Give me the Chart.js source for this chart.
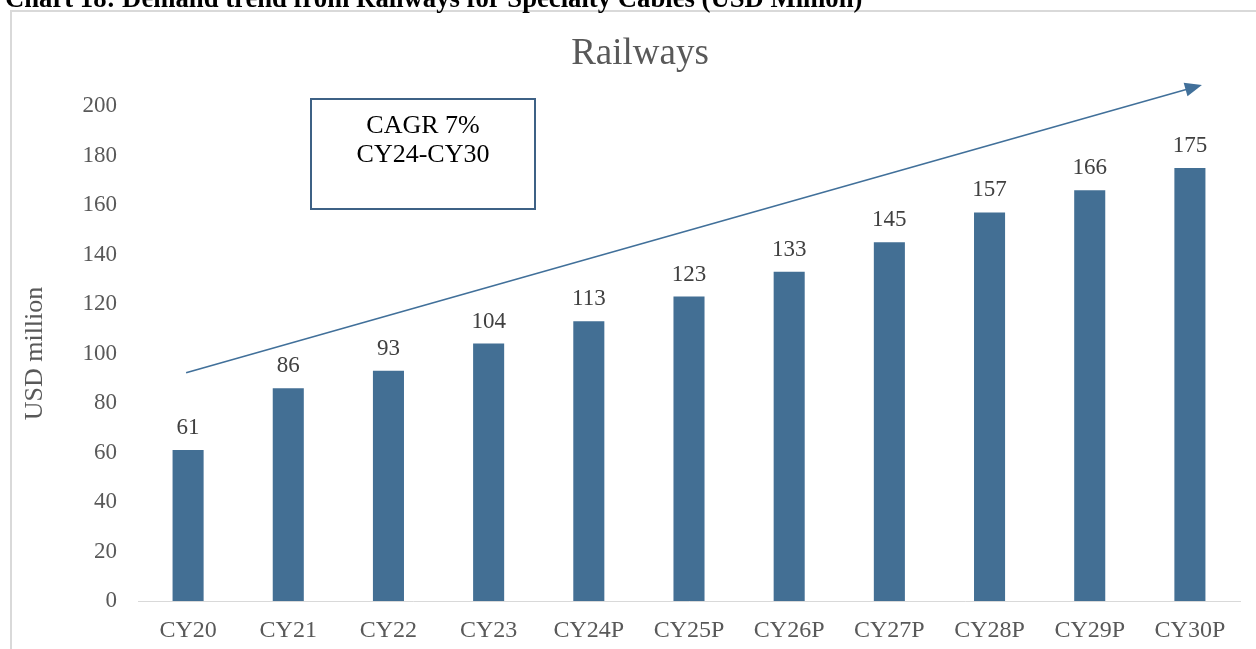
<!DOCTYPE html>
<html>
<head>
<meta charset="utf-8">
<script src="https://cdn.jsdelivr.net/npm/chart.js@4.4.1/dist/chart.umd.min.js"></script>
<style>
  html, body { margin: 0; padding: 0; background: #fff; width: 1256px; height: 649px; overflow: hidden; }
  #frame { position: absolute; left: 10px; top: 10px; width: 1260px; height: 660px; border: 2px solid #d9d9d9; box-sizing: border-box; }
  canvas { position: absolute; left: 0; top: 0; }
</style>
</head>
<body>
<div id="frame"></div>
<canvas id="c" width="1256" height="649"></canvas>
<script>
const categories = ["CY20","CY21","CY22","CY23","CY24P","CY25P","CY26P","CY27P","CY28P","CY29P","CY30P"];
const values = [61, 86, 93, 104, 113, 123, 133, 145, 157, 166, 175];
const yTicks = [0, 20, 40, 60, 80, 100, 120, 140, 160, 180, 200];
// trend arrow endpoints in data space: [category index, value]
const trendStart = [-0.02, 92.2];
const trendEnd = [10.12, 208.5];
const captionText = "Chart 18: Demand trend from Railways for Specialty Cables (USD Million)";
const titleText = "Railways";
const cagrLines = ["CAGR 7%", "CY24-CY30"];

const serif = '"Liberation Serif", "Times New Roman", Times, serif';

const labelPlugin = {
  id: 'barLabels',
  afterDatasetsDraw(chart) {
    const ctx = chart.ctx;
    const meta = chart.getDatasetMeta(0);
    ctx.save();
    ctx.font = '23px ' + serif;
    ctx.fillStyle = '#404040';
    ctx.textAlign = 'center';
    ctx.textBaseline = 'alphabetic';
    meta.data.forEach((bar, i) => {
      ctx.fillText(String(values[i]), bar.x, bar.y - 16);
    });
    ctx.restore();
  }
};

const decorPlugin = {
  id: 'decor',
  afterDraw(chart) {
    const ctx = chart.ctx;
    // caption (clipped at top in reference)
    ctx.save();
    ctx.font = 'bold 26.7px ' + serif;
    ctx.fillStyle = '#000';
    ctx.textAlign = 'left';
    ctx.textBaseline = 'alphabetic';
    ctx.fillText(captionText, 5, 6.5);
    // title
    ctx.font = '37px ' + serif;
    ctx.fillStyle = '#595959';
    ctx.textAlign = 'center';
    ctx.fillText(titleText, 640, 64);
    // CAGR box
    ctx.fillStyle = '#fff';
    ctx.fillRect(311, 99, 224, 110);
    ctx.strokeStyle = '#3E6185';
    ctx.lineWidth = 2;
    ctx.strokeRect(311, 99, 224, 110);
    ctx.fillStyle = '#000';
    ctx.font = '26px ' + serif;
    ctx.fillText(cagrLines[0], 423, 133);
    ctx.fillText(cagrLines[1], 423, 162);
    ctx.restore();

    // trend arrow
    const xs = chart.scales.x, ys = chart.scales.y;
    const x1 = xs.getPixelForValue(trendStart[0]), y1 = ys.getPixelForValue(trendStart[1]);
    const x2 = xs.getPixelForValue(trendEnd[0]), y2 = ys.getPixelForValue(trendEnd[1]);
    const ang = Math.atan2(y2 - y1, x2 - x1);
    const hl = 17, hw = 7;
    ctx.save();
    ctx.strokeStyle = '#41709A';
    ctx.fillStyle = '#41709A';
    ctx.lineWidth = 1.6;
    ctx.beginPath();
    ctx.moveTo(x1, y1);
    ctx.lineTo(x2 - hl * Math.cos(ang) * 0.8, y2 - hl * Math.sin(ang) * 0.8);
    ctx.stroke();
    ctx.beginPath();
    ctx.moveTo(x2, y2);
    const bx = x2 - hl * Math.cos(ang), by = y2 - hl * Math.sin(ang);
    ctx.lineTo(bx + hw * Math.sin(ang), by - hw * Math.cos(ang));
    ctx.lineTo(bx - hw * Math.sin(ang), by + hw * Math.cos(ang));
    ctx.closePath();
    ctx.fill();
    ctx.restore();
  }
};

new Chart(document.getElementById('c'), {
  type: 'bar',
  data: {
    labels: categories,
    datasets: [{
      data: values,
      backgroundColor: '#436F94',
      borderWidth: 0,
      barPercentage: 0.31,
      categoryPercentage: 1.0
    }]
  },
  options: {
    responsive: false,
    animation: false,
    devicePixelRatio: 1,
    layout: { padding: { left: 12, right: 16, top: 106, bottom: 0 } },
    plugins: {
      legend: { display: false },
      tooltip: { enabled: false },
      title: { display: false }
    },
    scales: {
      x: {
        grid: { display: false, drawTicks: false },
        border: { display: true, color: '#d9d9d9', width: 1 },
        ticks: { color: '#595959', font: { family: serif, size: 24 }, padding: 15, maxRotation: 0, autoSkip: false },
        afterFit(scale) { scale.height = 48; }
      },
      y: {
        min: 0, max: 200,
        grid: { display: false, drawTicks: false },
        border: { display: false },
        afterBuildTicks(scale) { scale.ticks = yTicks.map(v => ({ value: v })); },
        ticks: { color: '#595959', font: { family: serif, size: 23 }, padding: 21 },
        title: { display: true, text: 'USD million', color: '#595959', font: { family: serif, size: 26 }, padding: { top: 8, bottom: 0 } },
        afterFit(scale) { scale.width = 126; }
      }
    }
  },
  plugins: [labelPlugin, decorPlugin]
});
</script>
</body>
</html>
